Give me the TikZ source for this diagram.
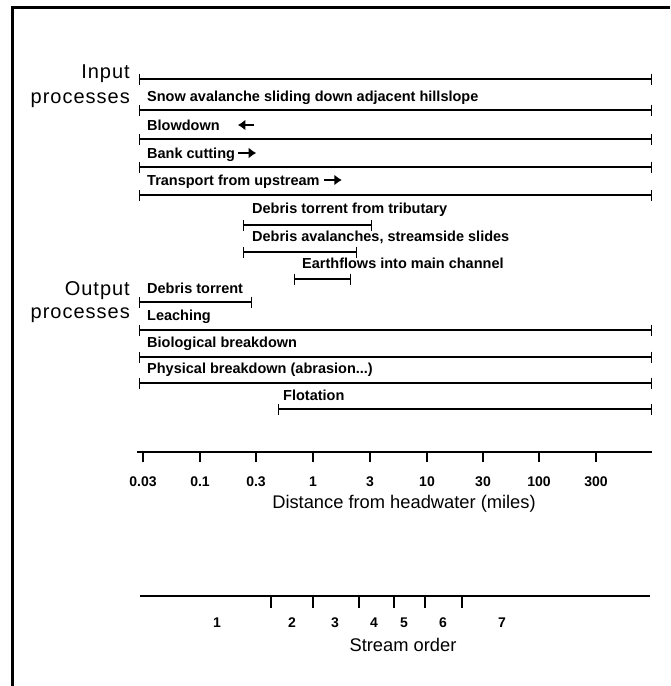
\documentclass[tikz,border=0pt]{standalone}
\usepackage{fontspec}
\setmainfont{Liberation Sans}
\newfontfamily\bigfont[LetterSpace=5]{Liberation Sans}
\usetikzlibrary{arrows.meta}
\begin{document}
\begin{tikzpicture}[x=1pt,y=-1pt,
  lbl/.style={font=\fontsize{14.5}{17}\selectfont\bfseries, anchor=base west, inner sep=0pt},
  biglbl/.style={font=\fontsize{20}{23}\selectfont\bigfont, anchor=base east, inner sep=0pt},
  num/.style={font=\fontsize{14}{16}\selectfont\bfseries, anchor=base, inner sep=0pt},
  axtitle/.style={font=\fontsize{18.3}{21}\selectfont, anchor=base, inner sep=0pt},
  rangebar/.style={line width=1.2pt, {Bar[width=11pt,line width=1.4pt]}-{Bar[width=11pt,line width=1.4pt]}},
  axisline/.style={line width=2pt},
  tickmark/.style={line width=1.8pt},
  fat/.style={line width=2.8pt, -{Latex[length=7.5pt,width=11pt]}},
  frameline/.style={line width=3pt}]
\useasboundingbox (0,0) rectangle (670,686);
% frame (top and left edges)
\coordinate (fbl) at (12,686);
\coordinate (ftl) at (12,7);
\coordinate (ftr) at (670,7);
\draw[frameline] (fbl) -- (ftl) -- (ftr);

% group labels
\node[biglbl] (in1) at (130,78) {Input};
\node[biglbl] (in2) at (130,103) {processes};
\node[biglbl] (out1) at (130,295) {Output};
\node[biglbl] (out2) at (130,318) {processes};

% range bars
\foreach \n/\xa/\xb/\yy in {1/139/652/79, 2/139/652/110, 3/139/652/139, 4/139/652/167,
  5/139/652/195, 6/243/372/225, 7/243/357/252, 8/294/351/279, 9/139/252/302,
  10/139/652/330, 11/139/652/357, 12/139/652/383, 13/278/652/409}{
  \coordinate (b\n l) at (\xa,\yy);
  \coordinate (b\n r) at (\xb,\yy);
  \draw[rangebar] (b\n l) -- (b\n r);
}

% bar labels
\node[lbl] (snow) at (147,101) {Snow avalanche sliding down adjacent hillslope};
\node[lbl] (blow) at (147,130) {Blowdown};
\node[lbl] (bank) at (147,158) {Bank cutting};
\node[lbl] (trans) at (147,185) {Transport from upstream};
\node[lbl] (dtt) at (252,213) {Debris torrent from tributary};
\node[lbl] (dav) at (252,241) {Debris avalanches, streamside slides};
\node[lbl] (earth) at (302,268) {Earthflows into main channel};
\node[lbl] (dto) at (147,293) {Debris torrent};
\node[lbl] (leach) at (147,320) {Leaching};
\node[lbl] (bio) at (147,347) {Biological breakdown};
\node[lbl] (phys) at (147,373) {Physical breakdown (abrasion...)};
\node[lbl] (flot) at (283,400) {Flotation};

% direction arrows
\draw[fat] ([xshift=34pt,yshift=5pt]blow.base east) -- ++(-16,0);
\draw[fat] ([xshift=3pt,yshift=5pt]bank.base east) -- ++(18,0);
\draw[fat] ([xshift=4pt,yshift=5pt]trans.base east) -- ++(18,0);

% distance axis
\coordinate (da) at (137,452);
\coordinate (db) at (652,452);
\draw[axisline] (da) -- (db);
\foreach \xx/\t in {143/0.03, 200/0.1, 256/0.3, 313/1, 370/3, 427/10, 483/30, 539/100, 596/300}{
  \draw[tickmark] (\xx,452) -- (\xx,462);
  \node[num] at (\xx,486) {\t};
}
\node[axtitle] (dtitle) at (404,508) {Distance from headwater (miles)};

% stream order axis
\coordinate (sa) at (140,596);
\coordinate (sb) at (650,596);
\draw[axisline] (sa) -- (sb);
\foreach \xx in {271, 313, 359, 394, 425, 462}{
  \draw[tickmark] (\xx,596) -- (\xx,608);
}
\foreach \xx/\t in {217/1, 292/2, 335/3, 374/4, 404/5, 443/6, 502/7}{
  \node[num] at (\xx,627) {\t};
}
\node[axtitle] (stitle) at (403,651) {Stream order};
\end{tikzpicture}
\end{document}
